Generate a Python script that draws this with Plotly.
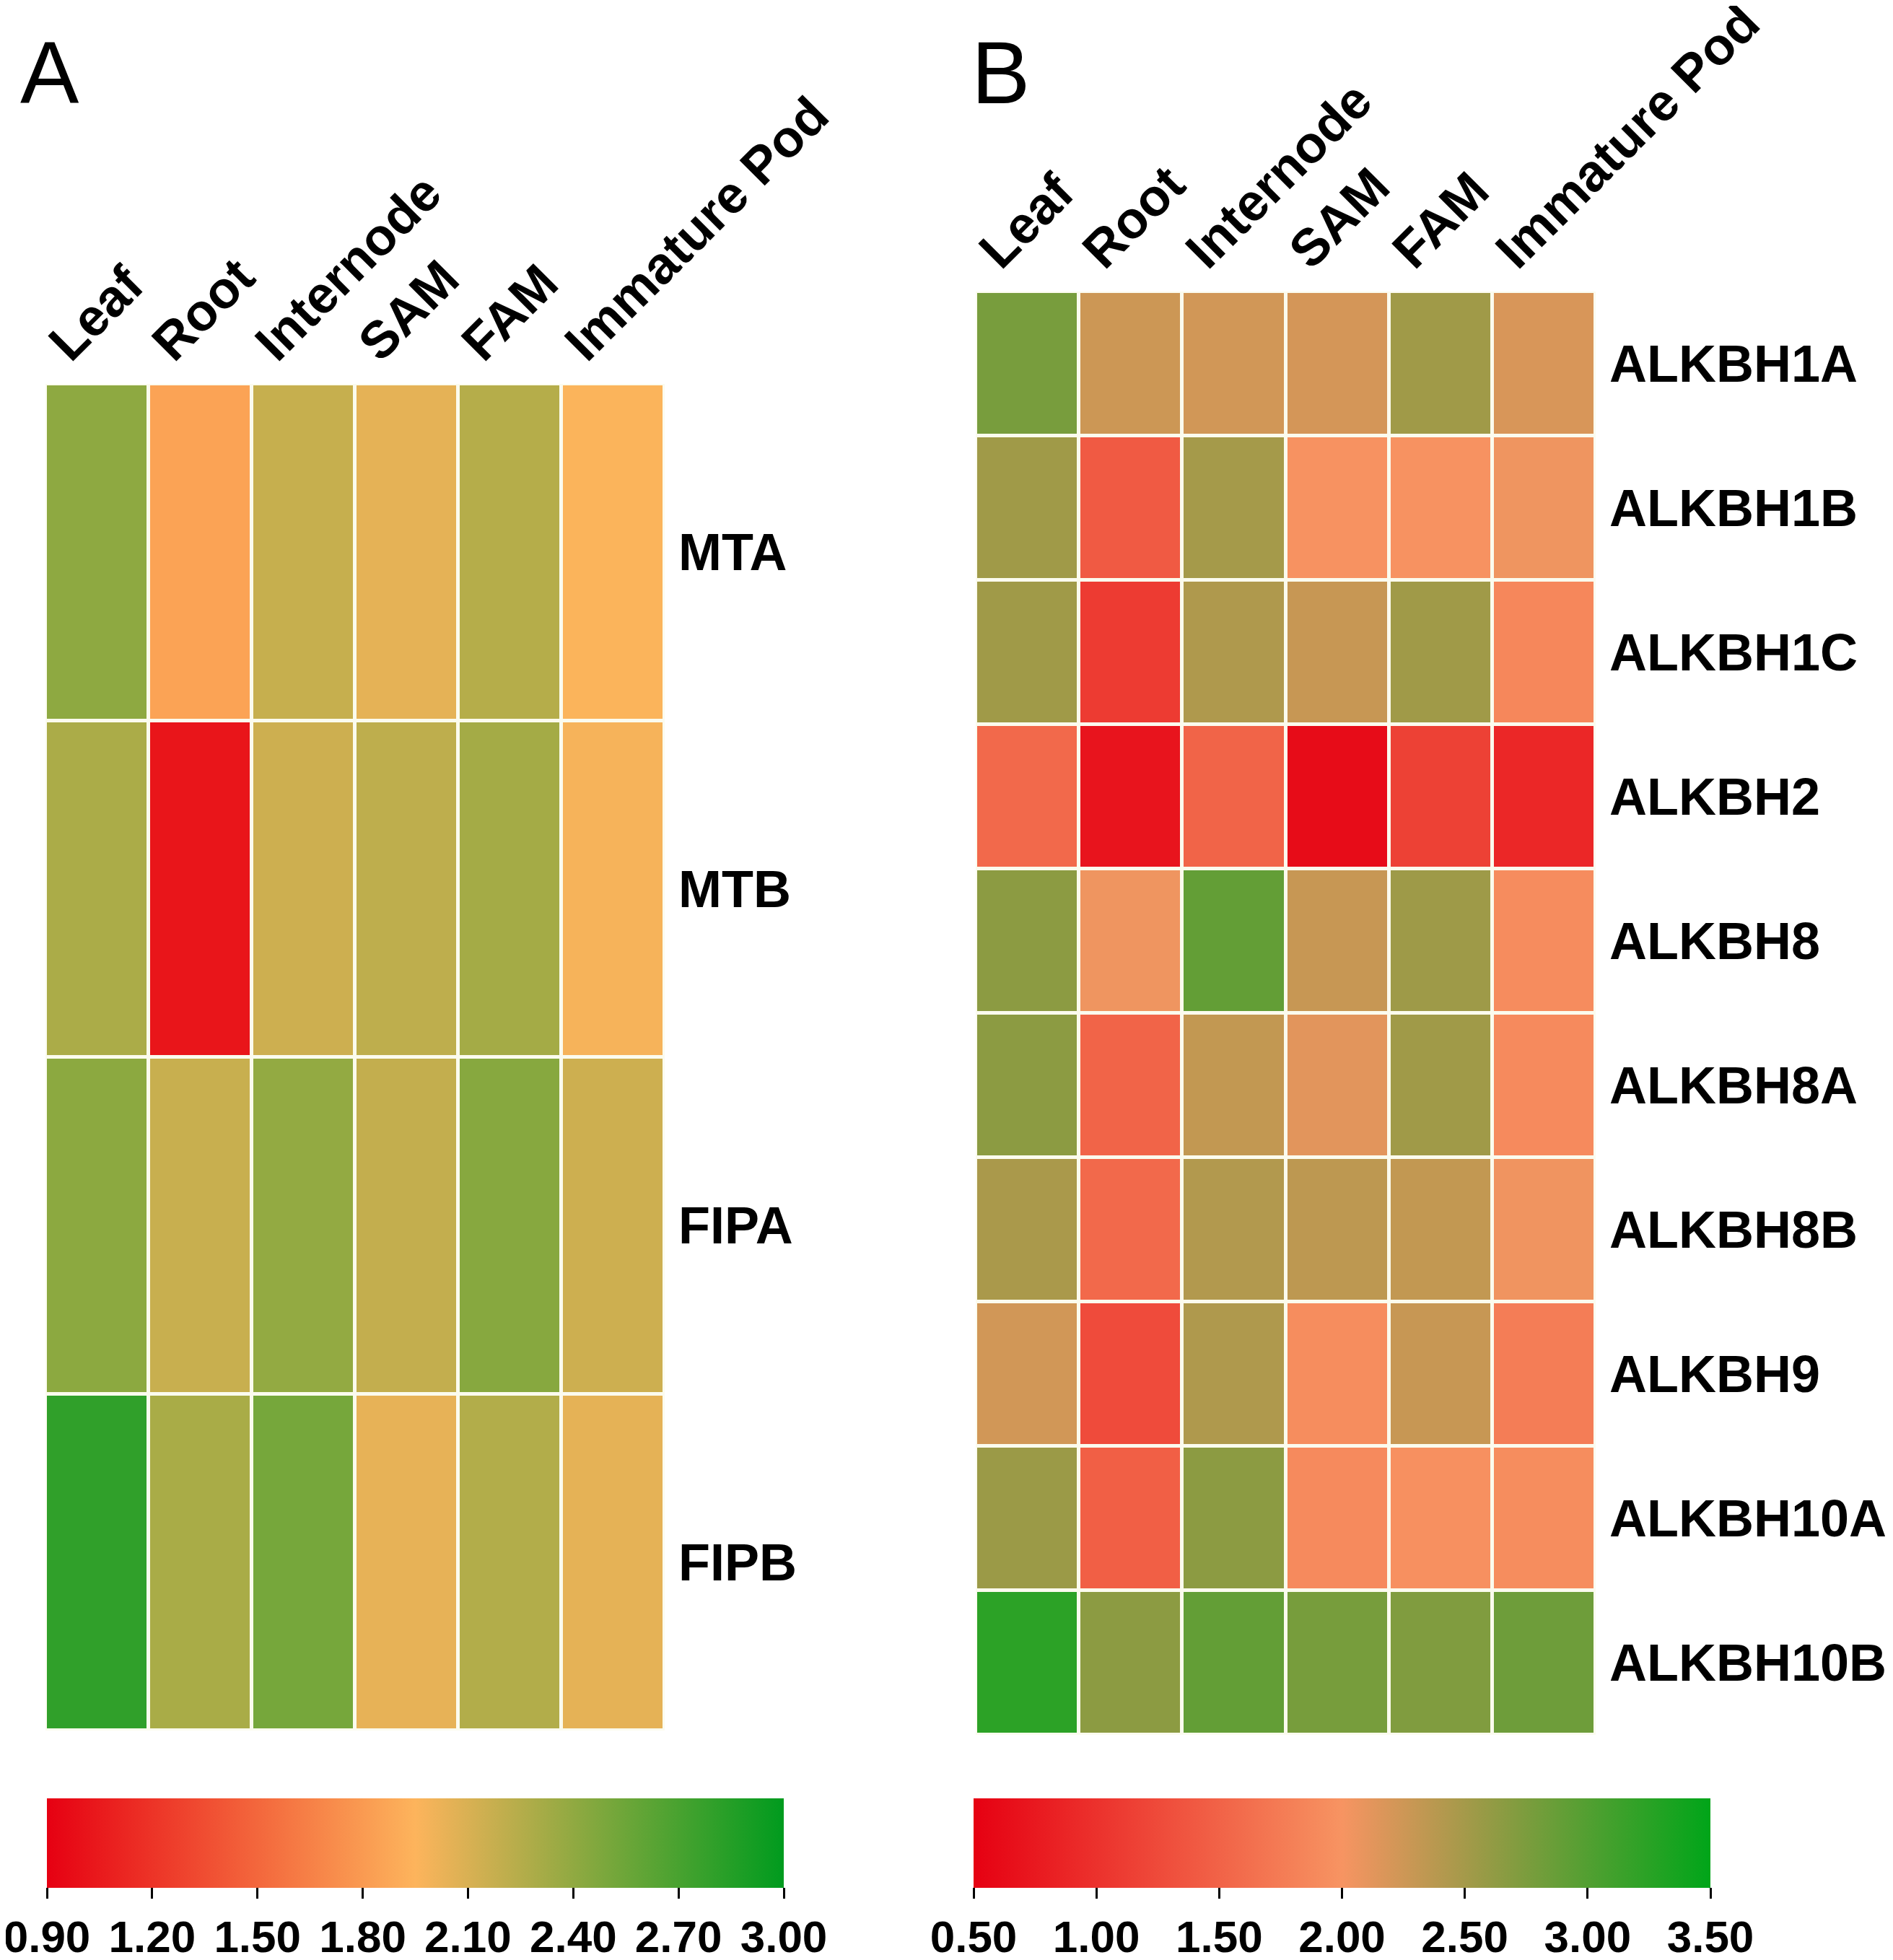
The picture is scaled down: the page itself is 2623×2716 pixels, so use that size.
import plotly.graph_objects as go

tissues = ["Leaf", "Root", "Internode", "SAM", "FAM", "Immature Pod"]

genes_a = ["MTA", "MTB", "FIPA", "FIPB"]
values_a = [
    [2.41, 1.85, 2.18, 2.05, 2.25, 1.96],
    [2.29, 1.02, 2.15, 2.21, 2.32, 1.98],
    [2.42, 2.17, 2.39, 2.19, 2.44, 2.15],
    [2.80, 2.30, 2.51, 2.04, 2.26, 2.05],
]

genes_b = ["ALKBH1A", "ALKBH1B", "ALKBH1C", "ALKBH2", "ALKBH8",
           "ALKBH8A", "ALKBH8B", "ALKBH9", "ALKBH10A", "ALKBH10B"]
values_b = [
    [2.77, 2.26, 2.23, 2.21, 2.53, 2.19],
    [2.53, 1.41, 2.50, 1.98, 1.98, 2.05],
    [2.53, 1.10, 2.44, 2.29, 2.53, 1.87],
    [1.56, 0.70, 1.51, 0.62, 1.16, 0.90],
    [2.65, 2.05, 2.90, 2.29, 2.54, 1.92],
    [2.65, 1.51, 2.32, 2.13, 2.53, 1.90],
    [2.47, 1.56, 2.42, 2.35, 2.32, 2.04],
    [2.23, 1.26, 2.44, 1.93, 2.29, 1.77],
    [2.56, 1.46, 2.65, 1.90, 1.96, 1.93],
    [3.23, 2.65, 2.90, 2.78, 2.72, 2.83],
]

ticks_a = [0.90, 1.20, 1.50, 1.80, 2.10, 2.40, 2.70, 3.00]
ticks_b = [0.50, 1.00, 1.50, 2.00, 2.50, 3.00, 3.50]
range_a = [0.90, 3.00]
range_b = [0.50, 3.50]

scale_a = [[0.0, "rgb(230,0,18)"], [0.5, "rgb(253,180,92)"], [1.0, "rgb(0,155,30)"]]
scale_b = [[0.0, "rgb(230,0,18)"], [0.5, "rgb(247,148,98)"], [1.0, "rgb(0,165,25)"]]

W, H = 2623, 2716
BOLD = dict(family="Liberation Sans, Arial, sans-serif", size=72, color="black", weight="bold")
TICKF = dict(family="Liberation Sans, Arial, sans-serif", size=62, color="black", weight="bold")

def px_x(p):
    return p / W

def px_y(p):
    return 1 - p / H

def colorbar(x0, ticks):
    return dict(
        orientation="h", x=px_x(x0), xanchor="left", y=px_y(2484), yanchor="top",
        len=1021, lenmode="pixels", thickness=124, thicknessmode="pixels",
        xpad=0, ypad=0, outlinewidth=0,
        tickmode="array", tickvals=ticks, ticktext=[f"{v:.2f}" for v in ticks],
        ticks="outside", ticklen=15, tickwidth=3, tickcolor="black",
        tickfont=TICKF, ticklabeloverflow="allow",
    )

fig = go.Figure()

fig.add_trace(go.Heatmap(
    z=values_a, x=tissues, y=genes_a, xaxis="x", yaxis="y",
    colorscale=scale_a, zmin=range_a[0], zmax=range_a[1],
    xgap=5, ygap=5, hoverongaps=False,
    colorbar=colorbar(57, ticks_a),
))

fig.add_trace(go.Heatmap(
    z=values_b, x=tissues, y=genes_b, xaxis="x2", yaxis="y2",
    colorscale=scale_b, zmin=range_b[0], zmax=range_b[1],
    xgap=5, ygap=5, hoverongaps=False,
    colorbar=colorbar(1341, ticks_b),
))

common_x = dict(side="top", tickangle=-45, showgrid=False, zeroline=False,
                showline=False, ticks="", tickfont=BOLD, ticklabelstandoff=2,
                ticklabelshift=-62)
common_y = dict(side="right", autorange="reversed", showgrid=False, zeroline=False,
                showline=False, ticks="", tickfont=BOLD, ticklabelstandoff=18)

fig.update_layout(
    width=W, height=H,
    margin=dict(l=0, r=0, t=0, b=0, autoexpand=False),
    paper_bgcolor="white",
    plot_bgcolor="#fbfbee",
    xaxis=dict(domain=[px_x(55), px_x(913)], anchor="y", **common_x),
    yaxis=dict(domain=[px_y(2390), px_y(524)], anchor="x", **common_y),
    xaxis2=dict(domain=[px_x(1344), px_x(2203)], anchor="y2", **common_x),
    yaxis2=dict(domain=[px_y(2396), px_y(396)], anchor="x2", **common_y),
    annotations=[
        dict(text="A", xref="paper", yref="paper", x=px_x(18), y=px_y(93),
             xanchor="left", yanchor="middle", showarrow=False,
             font=dict(family="Liberation Sans, Arial, sans-serif", size=122, color="black")),
        dict(text="B", xref="paper", yref="paper", x=px_x(1336), y=px_y(93),
             xanchor="left", yanchor="middle", showarrow=False,
             font=dict(family="Liberation Sans, Arial, sans-serif", size=122, color="black")),
    ],
)

fig.write_html("out.html")
